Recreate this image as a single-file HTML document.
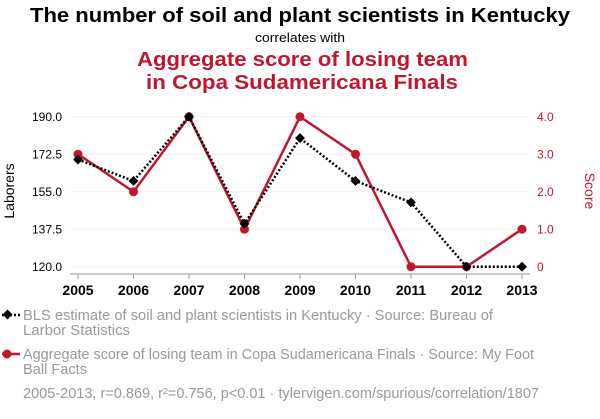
<!DOCTYPE html>
<html><head><meta charset="utf-8"><style>
body{margin:0;background:#fff;font-family:"Liberation Sans",Arial,sans-serif;}
svg text{font-family:"Liberation Sans",Arial,sans-serif;}
</style></head><body>
<svg id="chart" width="600" height="414" xmlns="http://www.w3.org/2000/svg">
<text x="30" y="22" textLength="540" lengthAdjust="spacingAndGlyphs" font-size="20" font-weight="bold" fill="#000">The number of soil and plant scientists in Kentucky</text>
<text x="255" y="42" textLength="90" lengthAdjust="spacingAndGlyphs" font-size="13" fill="#000">correlates with</text>
<text x="137" y="66" textLength="331" lengthAdjust="spacingAndGlyphs" font-size="20" font-weight="bold" fill="#c0172e">Aggregate score of losing team</text>
<text x="146" y="89" textLength="312" lengthAdjust="spacingAndGlyphs" font-size="20" font-weight="bold" fill="#c0172e">in Copa Sudamericana Finals</text>
<g id="grid"></g>
<g id="axes"></g>
<g id="series"></g>
<text transform="translate(14,191) rotate(-90)" text-anchor="middle" font-size="14" fill="#000">Laborers</text>
<text transform="translate(585,191) rotate(90)" text-anchor="middle" font-size="14" fill="#c0172e">Score</text>
<g>
<line x1="2" y1="315" x2="20" y2="315" stroke="#000" stroke-width="2.5" stroke-dasharray="2,2"/>
<rect x="4" y="311" width="7" height="7" transform="rotate(45 7.5 314.5)" fill="#000"/>
<text x="23" y="320" textLength="470" lengthAdjust="spacingAndGlyphs" font-size="14.5" fill="#999">BLS estimate of soil and plant scientists in Kentucky · Source: Bureau of</text>
<text x="23" y="335" textLength="107" lengthAdjust="spacingAndGlyphs" font-size="14.5" fill="#999">Larbor Statistics</text>
</g>
<g>
<line x1="2" y1="354" x2="20" y2="354" stroke="#c0172e" stroke-width="2.5"/>
<circle cx="7" cy="354" r="4.5" fill="#c0172e"/>
<text x="23" y="359" textLength="511" lengthAdjust="spacingAndGlyphs" font-size="14.5" fill="#999">Aggregate score of losing team in Copa Sudamericana Finals · Source: My Foot</text>
<text x="23" y="374" textLength="64" lengthAdjust="spacingAndGlyphs" font-size="14.5" fill="#999">Ball Facts</text>
</g>
<text x="23" y="398" textLength="516" lengthAdjust="spacingAndGlyphs" font-size="14.5" fill="#999">2005-2013, r=0.869, r²=0.756, p&lt;0.01 · tylervigen.com/spurious/correlation/1807</text>
</svg>
<script>
const years=[2005,2006,2007,2008,2009,2010,2011,2012,2013];
const laborers=[170,160,190,140,180,160,150,120,120];
const scores=[3,2,4,1,4,3,0,0,1];
const leftTicks=["120.0","137.5","155.0","172.5","190.0"];
const rightTicks=["0","1.0","2.0","3.0","4.0"];
const NS="http://www.w3.org/2000/svg";
const x=i=>78+(i)*(522-78)/(years.length-1);
const yL=v=>266.7-(v-120)/70*150;
const yR=v=>266.7-v/4*150;
function mk(tag,attrs,parent){const e=document.createElementNS(NS,tag);for(const k in attrs)e.setAttribute(k,attrs[k]);parent.appendChild(e);return e;}
const grid=document.getElementById('grid'),axes=document.getElementById('axes'),ser=document.getElementById('series');
leftTicks.forEach((t,i)=>{const v=parseFloat(t);const y=yL(v);
 const g=mk('line',{x1:70,x2:530,y1:y,y2:y,stroke:'#f0f0f0','stroke-width':1},grid);
 
 
 const tx=mk('text',{x:62,y:y+4.5,'text-anchor':'end','font-size':12,fill:'#000'},axes);tx.textContent=t;
 
 
});
rightTicks.forEach((t,i)=>{const y=yR(parseFloat(t));
 const tx=mk('text',{x:537,y:y+4.5,'font-size':12,fill:'#c0172e'},axes);tx.textContent=t;
 
 
});
const ax=mk('line',{x1:70,x2:530,y1:274,y2:274,stroke:'#999','stroke-width':1},axes);


years.forEach((yr,i)=>{
 mk('line',{x1:x(i),x2:x(i),y1:274,y2:279,stroke:'#999'},axes);
 const tx=mk('text',{x:x(i),y:295,'text-anchor':'middle','font-size':14,'font-weight':'bold',fill:'#000'},axes);tx.textContent=yr;
 
 
});
const rp=mk('polyline',{points:scores.map((v,i)=>x(i)+','+yR(v)).join(' '),fill:'none',stroke:'#c0172e','stroke-width':2.5},ser);


scores.forEach((v,i)=>{const c=mk('circle',{cx:x(i),cy:yR(v),r:4.5,fill:'#c0172e'},ser);
 
 });
const bp=mk('polyline',{points:laborers.map((v,i)=>x(i)+','+yL(v)).join(' '),fill:'none',stroke:'#000','stroke-width':2.5,'stroke-dasharray':'2,2'},ser);


laborers.forEach((v,i)=>{const r=mk('rect',{x:x(i)-3.5,y:yL(v)-3.5,width:7,height:7,fill:'#000',transform:`rotate(45 ${x(i)} ${yL(v)})`},ser);
 
 });
</script>
</body></html>
